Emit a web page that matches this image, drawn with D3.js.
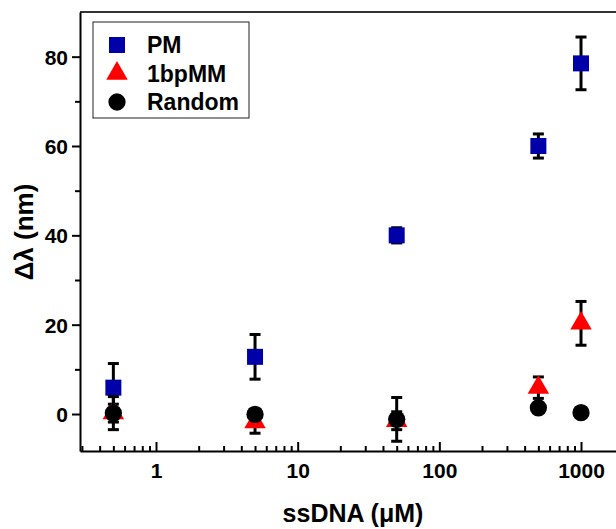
<!DOCTYPE html>
<html><head><meta charset="utf-8">
<script src="https://cdn.jsdelivr.net/npm/d3@7"></script>
<style>
html,body{margin:0;padding:0;background:#fff;}
text{font-family:"Liberation Sans",Arial,sans-serif;font-weight:bold;}
</style></head>
<body><svg id="c" width="616" height="529"></svg>
<script>
const concentrations = [0.5, 5, 50, 500, 1000];
const pmValues   = [5.9, 12.8, 40.0, 60.0, 78.5];
const pmErrors   = [5.4, 5.0, 1.7, 2.7, 5.9];
const mmValues   = [0.2, -1.8, -1.5, 5.9, 20.3];
const mmErrors   = [2.0, 2.5, 2.0, 2.4, 4.9];
const rndValues  = [0.2, -0.1, -1.2, 1.4, 0.3];
const rndErrors  = [3.7, 1.2, 4.9, 0.8, 0.9];
const seriesNames = ["PM", "1bpMM", "Random"];
const xTickValues = [1, 10, 100, 1000];
const yTickValues = [0, 20, 40, 60, 80];
const yMinorValues = [10, 30, 50, 70];

const svg = d3.select("#c");
const L = 80, T = 12, B = 451, R = 616;
const x = d3.scaleLog().domain([0.2907, 1766]).range([L, R]);
const y = d3.scaleLinear().domain([-8.28, 90]).range([B, T]);

// top border
svg.append("line").attr("x1", L).attr("x2", R).attr("y1", T).attr("y2", T)
  .attr("stroke", "#333").attr("stroke-width", 2);

// x axis (ticks inward)
const xMinor = [];
for (let d = -1; d <= 3; d++) for (let k = 2; k <= 9; k++) {
  const v = k * Math.pow(10, d);
  if (v > 0.2907 && v < 1766) xMinor.push(v);
}
const gx = svg.append("g").attr("transform", `translate(0,${B})`);
gx.call(d3.axisBottom(x).tickValues(xMinor).tickSize(-5).tickFormat(""));
gx.call(g => g.selectAll(".domain").remove());
const gx2 = svg.append("g").attr("transform", `translate(0,${B})`)
  .call(d3.axisBottom(x).tickValues(xTickValues).tickSize(-9).tickSizeOuter(0).tickPadding(0).tickFormat(d3.format("d")));
gx2.selectAll(".tick text").attr("y", 27).attr("dy", null).attr("font-size", 21).attr("fill", "#000");

// y axis (ticks outward)
const gy = svg.append("g").attr("transform", `translate(${L},0)`);
gy.call(d3.axisLeft(y).tickValues(yMinorValues).tickSize(5).tickFormat(""));
gy.select(".domain").remove();
const gy2 = svg.append("g").attr("transform", `translate(${L},0)`)
  .call(d3.axisLeft(y).tickValues(yTickValues).tickSize(8).tickSizeOuter(0).tickPadding(4));
gy2.selectAll(".tick text").attr("font-size", 21).attr("fill", "#000").attr("dy", "0.36em");
svg.selectAll("g .tick line").attr("stroke", "#000").attr("stroke-width", 2);
svg.selectAll(".domain").attr("stroke", "#000").attr("stroke-width", 2);

// axis titles
svg.append("text").attr("x", 353).attr("y", 522).attr("text-anchor", "middle")
  .attr("font-size", 25).text("ssDNA (\u03BCM)");
svg.append("text").attr("transform", "translate(33,232) rotate(-90)")
  .attr("text-anchor", "middle").attr("font-size", 26).text("\u0394\u03BB (nm)");

// data
const series = [
  {name: seriesNames[0], vals: pmValues, errs: pmErrors, color: "#0000a8", sym: d3.symbolSquare, size: 256},
  {name: seriesNames[1], vals: mmValues, errs: mmErrors, color: "#ff0000", sym: d3.symbolTriangle, size: 200},
  {name: seriesNames[2], vals: rndValues, errs: rndErrors, color: "#000000", sym: d3.symbolCircle, size: 235}
];

const plot = svg.append("g");
series.forEach(s => {
  const g = plot.append("g");
  concentrations.forEach((c, i) => {
    const cx = x(c), v = s.vals[i], e = s.errs[i];
    const y1 = y(v + e), y2 = y(v - e);
    g.append("line").attr("x1", cx).attr("x2", cx).attr("y1", y1).attr("y2", y2)
      .attr("stroke", "#000").attr("stroke-width", 3);
    [y1, y2].forEach(yy => g.append("line").attr("x1", cx - 5.5).attr("x2", cx + 5.5)
      .attr("y1", yy).attr("y2", yy).attr("stroke", "#000").attr("stroke-width", 3));
    g.append("path").attr("d", d3.symbol().type(s.sym).size(s.size)())
      .attr("transform", `translate(${cx},${y(v)})`).attr("fill", s.color);
  });
});

// legend
const lg = svg.append("g");
lg.append("rect").attr("x", 93).attr("y", 22).attr("width", 156).attr("height", 96)
  .attr("fill", "#fff").attr("stroke", "#222").attr("stroke-width", 1);
series.forEach((s, i) => {
  const cy = 45 + i * 28.5;
  lg.append("path").attr("d", d3.symbol().type(s.sym).size(s.size)())
    .attr("transform", `translate(117,${cy})`).attr("fill", s.color);
  lg.append("text").attr("x", 147).attr("y", cy + 8).attr("font-size", 23).text(s.name);
});
</script></body></html>
